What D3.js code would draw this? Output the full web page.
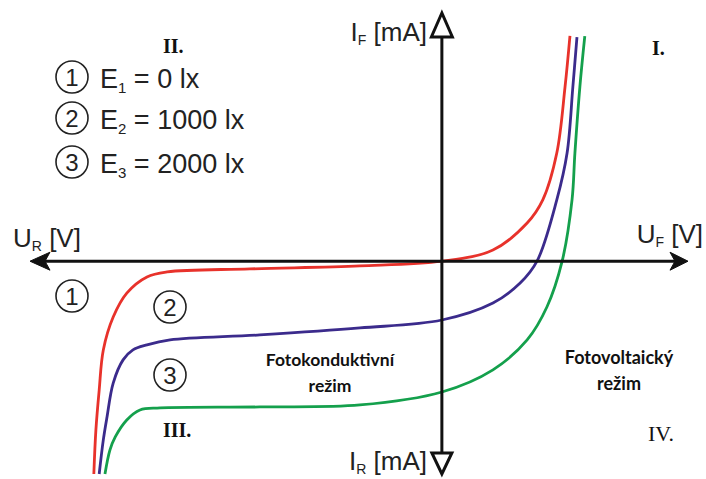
<!DOCTYPE html>
<html>
<head>
<meta charset="utf-8">
<script src="https://cdn.jsdelivr.net/npm/d3@7"></script>
<style>
  html, body { margin: 0; padding: 0; background: #fff; }
  svg { display: block; }
</style>
</head>
<body>
<div id="chart"></div>
<script>
// -----------------------------
// 1) Daten (U in V, I in mA, abgelesen)
// -----------------------------
const seriesKeys   = ["1", "2", "3"];
const seriesNames  = ["E", "E", "E"];
const seriesValues = ["0 lx", "1000 lx", "2000 lx"];
const seriesColors = ["#e8322b", "#3b2b8c", "#14a04c"];

const curveE1 = [
  [-8.45, -8.54], [-8.40, -6.77], [-8.32, -5.17], [-8.22, -3.56], [-7.98, -2.24],
  [-7.65, -1.28], [-7.16, -0.63], [-6.67, -0.43], [-4.66, -0.31], [-1.99, -0.19],
  [0.00, 0.00], [1.24, 0.45], [2.07, 1.53], [2.45, 2.46], [2.79, 4.34],
  [2.99, 6.99], [3.11, 9.04]
];
const curveE2 = [
  [-8.32, -8.54], [-8.22, -7.17], [-8.13, -6.25], [-7.98, -4.89], [-7.74, -3.96],
  [-7.50, -3.56], [-7.16, -3.36], [-6.60, -3.16], [-4.42, -2.96], [-1.99, -2.68],
  [0.00, -2.36], [1.24, -1.68], [1.90, -0.88], [2.31, 0.00], [2.79, 2.46],
  [3.04, 4.34], [3.18, 6.99], [3.28, 8.99]
];
const curveE3 = [
  [-8.18, -8.54], [-8.06, -7.58], [-7.93, -7.05], [-7.65, -6.37], [-7.33, -5.97],
  [-6.84, -5.89], [-4.42, -5.85], [-1.99, -5.77], [0.00, -5.25], [1.24, -4.36],
  [2.07, -3.16], [2.55, -1.84], [2.92, 0.00], [3.16, 2.46], [3.23, 4.34],
  [3.35, 6.99], [3.47, 9.03]
];
const curves = [curveE1, curveE2, curveE3];

const uDomain = [-10, 6];
const iDomain = [-8.5, 10];

// -----------------------------
// 2) Layout und Skalen
// -----------------------------
const w = 706, h = 479;
const svg = d3.select("#chart").append("svg").attr("width", w).attr("height", h);

const x = d3.scaleLinear().domain(uDomain).range([30, 689]);
const y = d3.scaleLinear().domain(iDomain).range([473, 12]);

const x0 = x(0), y0 = y(0);
const SANS = "'Liberation Sans', Arial, sans-serif";
const SERIF = "'Liberation Serif', 'Times New Roman', serif";

// -----------------------------
// 3) Kurven
// -----------------------------
const line = d3.line()
  .x(d => x(d[0]))
  .y(d => y(d[1]))
  .curve(d3.curveCatmullRom.alpha(0.5));

svg.append("g").selectAll("path")
  .data(curves)
  .join("path")
  .attr("d", line)
  .attr("fill", "none")
  .attr("stroke", (d, i) => seriesColors[i])
  .attr("stroke-width", 2.8)
  .attr("stroke-linecap", "butt");

// -----------------------------
// 4) Achsen mit Pfeilen
// -----------------------------
const ax = svg.append("g").attr("stroke", "#111").attr("stroke-width", 3);
const [xl, xr] = x.range();
const [yb, yt] = y.range();

// horizontale Achse
ax.append("line").attr("x1", xl + 14).attr("x2", xr - 14).attr("y1", y0).attr("y2", y0);
ax.append("path")
  .attr("d", `M${xl},${y0} L${xl + 20},${y0 - 9} L${xl + 15},${y0} L${xl + 20},${y0 + 9} Z`)
  .attr("fill", "#111").attr("stroke-width", 1);
ax.append("path")
  .attr("d", `M${xr - 1},${y0} L${xr - 19},${y0 - 9} L${xr - 14},${y0} L${xr - 19},${y0 + 9} Z`)
  .attr("fill", "#111").attr("stroke-width", 1);

// vertikale Achse (hohle Dreiecke)
ax.append("line").attr("x1", x0).attr("x2", x0).attr("y1", yt + 25).attr("y2", yb - 20);
ax.append("path")
  .attr("d", `M${x0},${yt + 1} L${x0 - 10.5},${yt + 25} L${x0 + 10.5},${yt + 25} Z`)
  .attr("fill", "#fff").attr("stroke-linejoin", "miter");
ax.append("path")
  .attr("d", `M${x0 - 10},${yb - 20} L${x0 + 10},${yb - 20} L${x0},${yb + 1} Z`)
  .attr("fill", "#fff").attr("stroke-linejoin", "miter");

// Achsenbeschriftungen
function axisLabel(xp, yp, main, sub, rest, anchor) {
  const t = svg.append("text")
    .attr("x", xp).attr("y", yp)
    .attr("text-anchor", anchor)
    .style("font-family", SANS).style("font-size", "26px").style("fill", "#222");
  t.append("tspan").text(main);
  t.append("tspan").attr("dy", 4).style("font-size", "14px").text(sub);
  t.append("tspan").attr("dy", -4).text(rest);
}
axisLabel(427, 41, "I", "F", " [mA]", "end");
axisLabel(427, 470, "I", "R", " [mA]", "end");
axisLabel(13, 247, "U", "R", " [V]", "start");
axisLabel(703, 243, "U", "F", " [V]", "end");

// -----------------------------
// 5) Legende (Kreisnummern)
// -----------------------------
function circled(cx, cy, label) {
  svg.append("circle")
    .attr("cx", cx).attr("cy", cy).attr("r", 16)
    .attr("fill", "none").attr("stroke", "#222").attr("stroke-width", 1.6);
  svg.append("text")
    .attr("x", cx).attr("y", cy + 8.5)
    .attr("text-anchor", "middle")
    .style("font-family", SANS).style("font-size", "24px").style("fill", "#222")
    .text(label);
}

const legendY = [77, 118, 162];
seriesKeys.forEach((k, i) => {
  circled(72, legendY[i], k);
  const t = svg.append("text")
    .attr("x", 100).attr("y", legendY[i] + 11)
    .style("font-family", SANS).style("font-size", "27px").style("fill", "#222");
  t.append("tspan").text(seriesNames[i]);
  t.append("tspan").attr("dy", 5).style("font-size", "15px").text(k);
  t.append("tspan").attr("dy", -5).text(" = " + seriesValues[i]);
});

// Kreisnummern an den Kurven
circled(72, 296, "1");
circled(170, 307, "2");
circled(170, 375, "3");

// -----------------------------
// 6) Quadranten und Betriebsarten
// -----------------------------
const quads = [
  { t: "II.",  x: 163, y: 53,  wt: 700, fs: 20 },
  { t: "I.",   x: 652, y: 55,  wt: 700, fs: 20 },
  { t: "III.", x: 163, y: 437, wt: 700, fs: 20 },
  { t: "IV.",  x: 648, y: 441, wt: 400, fs: 22 }
];
quads.forEach(q => {
  svg.append("text")
    .attr("x", q.x).attr("y", q.y)
    .style("font-family", SERIF).style("font-size", q.fs + "px")
    .style("font-weight", q.wt).style("fill", "#111")
    .text(q.t);
});

function modeLabel(cx, y1, l1, l2, fs) {
  const t = svg.append("text")
    .attr("text-anchor", "middle")
    .style("font-family", "Lato, 'Open Sans', sans-serif").style("font-size", fs + "px")
    .style("font-weight", 700).style("fill", "#111");
  t.append("tspan").attr("x", cx).attr("y", y1).text(l1);
  t.append("tspan").attr("x", cx).attr("y", y1 + 26).text(l2);
}
modeLabel(330, 366, "Fotokonduktivní", "režim", 17.5);
modeLabel(619, 364, "Fotovoltaický", "režim", 18);
</script>
</body>
</html>
